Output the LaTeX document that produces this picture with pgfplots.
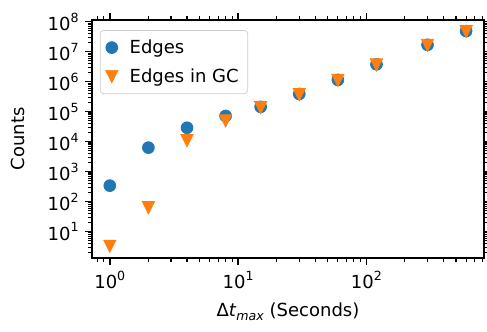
\documentclass[border=0pt]{standalone}
\usepackage{fontspec}
\setmainfont{DejaVu Sans}
\usepackage{pgfplots}
\pgfplotsset{compat=1.18}
\usetikzlibrary{calc}
\definecolor{tabblue}{HTML}{1F77B4}
\definecolor{taborange}{HTML}{FF7F0E}
\newcommand\tl[1]{10\raisebox{0.45em}{\fontsize{7}{8}\selectfont #1}}
\begin{document}
\begin{tikzpicture}
\begin{axis}[
  xmode=log, ymode=log,
  scale only axis, width=217.8pt, height=132.2pt,
  xmin=0.726, xmax=826, ymin=1.318, ymax=1.148e8,
  xtick={1,10,100}, xticklabels={\tl{0},\tl{1},\tl{2}},
  minor xtick={0.8,0.9,2,3,4,5,6,7,8,9,20,30,40,50,60,70,80,90,200,300,400,500,600,700,800},
  ytick={10,100,1e3,1e4,1e5,1e6,1e7,1e8},
  yticklabels={\tl{1},\tl{2},\tl{3},\tl{4},\tl{5},\tl{6},\tl{7},\tl{8}},
  minor ytick={2,3,4,5,6,7,8,9,20,30,40,50,60,70,80,90,200,300,400,500,600,700,800,900,
    2e3,3e3,4e3,5e3,6e3,7e3,8e3,9e3,2e4,3e4,4e4,5e4,6e4,7e4,8e4,9e4,
    2e5,3e5,4e5,5e5,6e5,7e5,8e5,9e5,2e6,3e6,4e6,5e6,6e6,7e6,8e6,9e6,
    2e7,3e7,4e7,5e7,6e7,7e7,8e7,9e7},
  tick align=outside,
  major tick length=3.9pt, minor tick length=2.2pt,
  every major tick/.append style={line width=0.8pt, black},
  every minor tick/.append style={line width=0.6pt, black},
  axis line style={line width=0.8pt},
  tick label style={font=\fontsize{10}{12}\selectfont},
  xlabel={Δ\textit{t}\raisebox{-0.2em}{\fontsize{7}{8}\selectfont\textit{max}} (Seconds)},
  ylabel={Counts},
  every axis x label/.style={at={(axis description cs:0.5,-0.227)}, anchor=center, font=\fontsize{10}{12}\selectfont},
  every axis y label/.style={at={(axis description cs:-0.19,0.5)}, anchor=center, rotate=90, font=\fontsize{10}{12}\selectfont},
  legend style={at={(0,1)}, anchor=north west, xshift=4.4pt, yshift=-5.6pt,
    draw=black!20, rounded corners=2pt, fill=white,
    font=\fontsize{10}{12}\selectfont, row sep=3pt, inner ysep=3pt,
    /tikz/every odd column/.append style={column sep=4.5pt}},
  legend cell align=left,
]
\addplot[color=tabblue, only marks, mark=*, mark size=3.3pt, mark options={fill=tabblue, draw=none}]
  coordinates {(1,340) (2,6300) (4,2.9e4) (8,7.2e4) (15,1.45e5) (30,3.9e5) (60,1.15e6) (120,3.8e6) (300,1.7e7) (600,4.9e7)};
\addlegendentry{Edges}
\addplot[color=taborange, only marks, mark=triangle*, mark size=3.95pt, mark options={rotate=180, yscale=1.155, yshift=-1pt, fill=taborange, draw=none}]
  coordinates {(1,3.2) (2,62) (4,1.07e4) (8,4.9e4) (15,1.35e5) (30,3.7e5) (60,1.1e6) (120,3.6e6) (300,1.62e7) (600,4.7e7)};
\addlegendentry{Edges in GC}
\end{axis}
\pgfresetboundingbox
\useasboundingbox ($(current axis.south west)+(-51.1pt,-41.1pt)$) rectangle ($(current axis.north east)+(1.7pt,11.1pt)$);
\end{tikzpicture}
\end{document}
